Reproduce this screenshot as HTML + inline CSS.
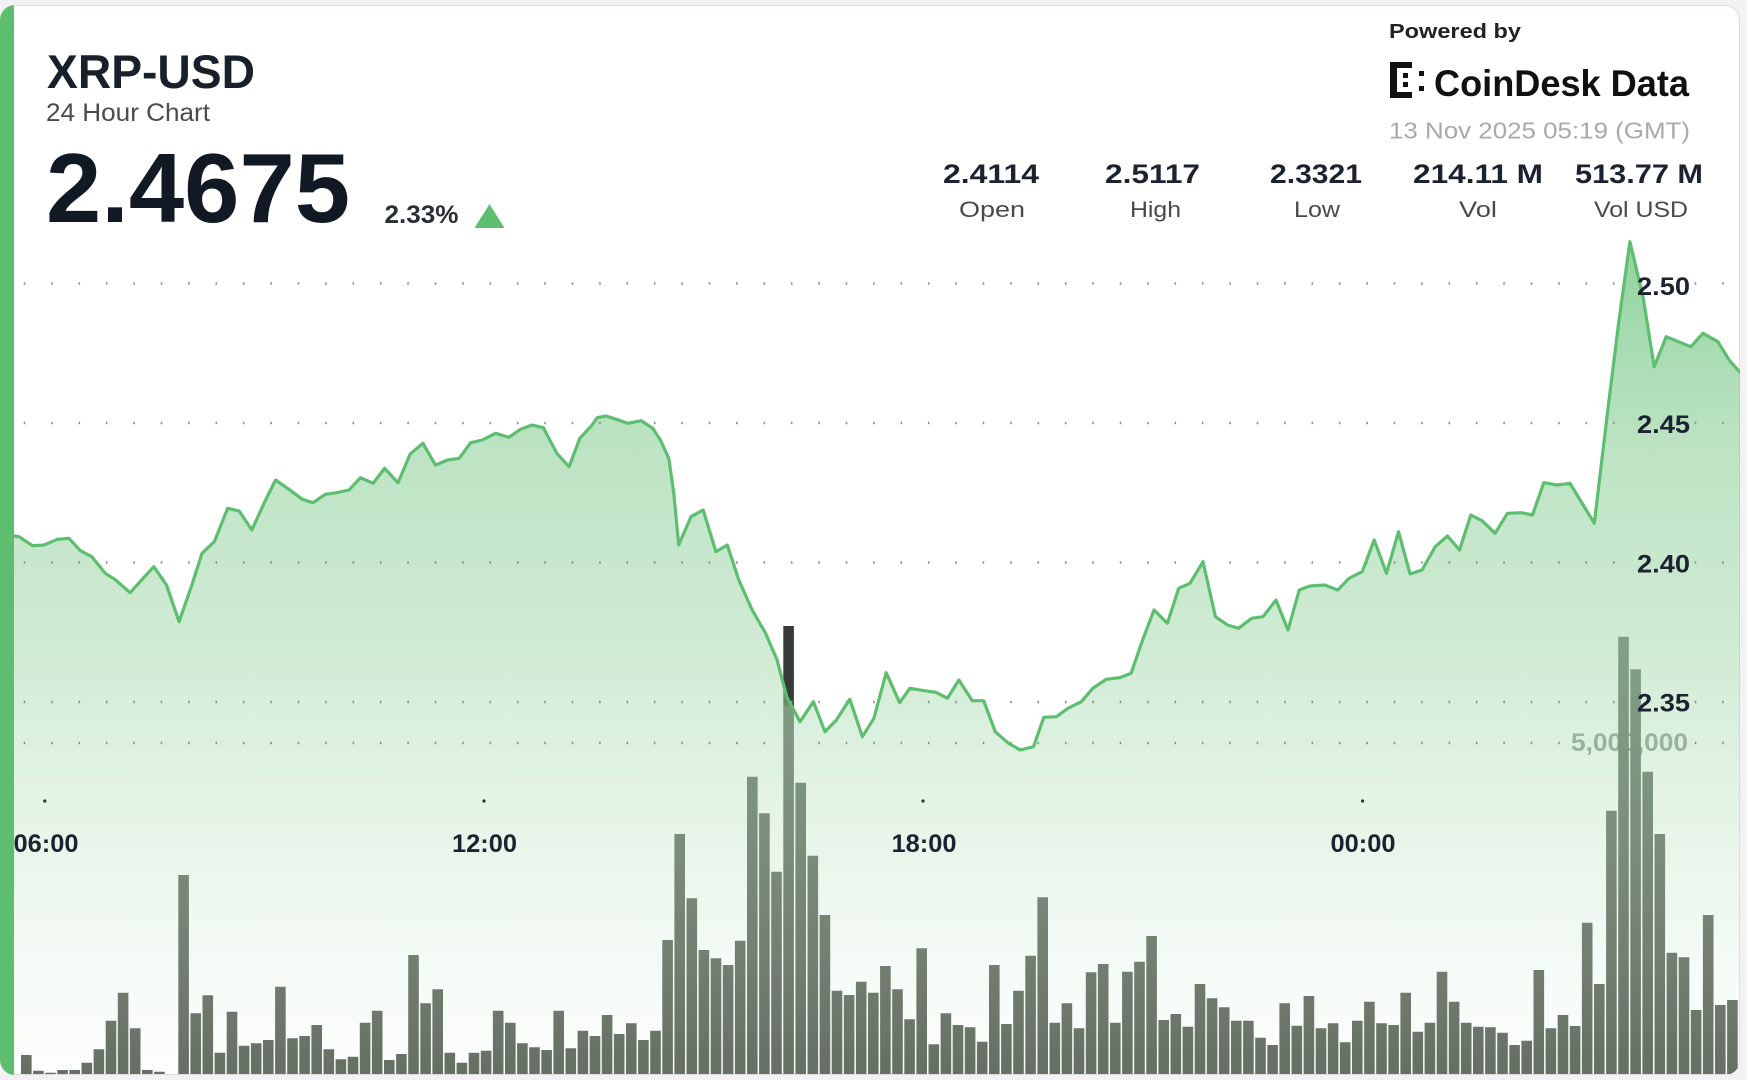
<!DOCTYPE html>
<html><head><meta charset="utf-8">
<style>
html,body{margin:0;padding:0;background:#f3f1f3;}
svg{display:block;}
text{font-family:"Liberation Sans",Arial,sans-serif;}
</style></head><body>
<svg width="1747" height="1080" viewBox="0 0 1747 1080" xmlns="http://www.w3.org/2000/svg">
<defs>
<clipPath id="card"><rect x="0" y="5" width="1740" height="1070" rx="15"/></clipPath>
<linearGradient id="fg" gradientUnits="userSpaceOnUse" x1="0" y1="240" x2="0" y2="1074">
<stop offset="0" stop-color="#6cc47e" stop-opacity="0.75"/>
<stop offset="0.25" stop-color="#8ccf98" stop-opacity="0.58"/>
<stop offset="0.5" stop-color="#a6d9ae" stop-opacity="0.52"/>
<stop offset="0.8" stop-color="#c5e6ca" stop-opacity="0.28"/>
<stop offset="1" stop-color="#e0f2e3" stop-opacity="0.1"/>
</linearGradient>
</defs>
<rect width="1747" height="1080" fill="#f3f1f3"/>
<rect x="0.5" y="5.5" width="1739" height="1069" rx="15" fill="#ffffff" stroke="#e0dde0"/>
<g clip-path="url(#card)">
<text x="1688" y="751" font-size="25" font-weight="bold" fill="#8a8f8a" text-anchor="end" textLength="117" lengthAdjust="spacingAndGlyphs">5,000,000</text>
<path fill="#586055" d="M21 1055h10.6V1074h-10.6Z M33.1 1070.7h10.6V1074h-10.6Z M45.2 1072.7h10.6V1074h-10.6Z M57.3 1070h10.6V1074h-10.6Z M69.4 1070h10.6V1074h-10.6Z M81.5 1062.7h10.6V1074h-10.6Z M93.6 1049.3h10.6V1074h-10.6Z M105.7 1020.7h10.6V1074h-10.6Z M117.8 992.7h10.6V1074h-10.6Z M129.9 1028.3h10.6V1074h-10.6Z M142 1070h10.6V1074h-10.6Z M154.1 1071.7h10.6V1074h-10.6Z M178.3 875h10.6V1074h-10.6Z M190.4 1013.3h10.6V1074h-10.6Z M202.5 995.3h10.6V1074h-10.6Z M214.6 1052.7h10.6V1074h-10.6Z M226.7 1011.7h10.6V1074h-10.6Z M238.8 1045.7h10.6V1074h-10.6Z M250.9 1043.3h10.6V1074h-10.6Z M263 1040h10.6V1074h-10.6Z M275.1 986.7h10.6V1074h-10.6Z M287.2 1038.3h10.6V1074h-10.6Z M299.3 1036h10.6V1074h-10.6Z M311.4 1025h10.6V1074h-10.6Z M323.5 1049.3h10.6V1074h-10.6Z M335.6 1059.3h10.6V1074h-10.6Z M347.7 1056.7h10.6V1074h-10.6Z M359.8 1022.7h10.6V1074h-10.6Z M371.9 1010.7h10.6V1074h-10.6Z M384 1060h10.6V1074h-10.6Z M396.1 1054h10.6V1074h-10.6Z M408.2 955h10.6V1074h-10.6Z M420.3 1003.3h10.6V1074h-10.6Z M432.4 989.3h10.6V1074h-10.6Z M444.5 1052.7h10.6V1074h-10.6Z M456.6 1062.7h10.6V1074h-10.6Z M468.7 1052.7h10.6V1074h-10.6Z M480.8 1050.7h10.6V1074h-10.6Z M492.9 1010.7h10.6V1074h-10.6Z M505 1022.7h10.6V1074h-10.6Z M517.1 1043.3h10.6V1074h-10.6Z M529.2 1047.3h10.6V1074h-10.6Z M541.3 1050h10.6V1074h-10.6Z M553.4 1010.7h10.6V1074h-10.6Z M565.5 1048.3h10.6V1074h-10.6Z M577.6 1030.7h10.6V1074h-10.6Z M589.7 1036h10.6V1074h-10.6Z M601.8 1015h10.6V1074h-10.6Z M613.9 1034h10.6V1074h-10.6Z M626 1023.3h10.6V1074h-10.6Z M638.1 1040h10.6V1074h-10.6Z M650.2 1030.7h10.6V1074h-10.6Z M662.3 940h10.6V1074h-10.6Z M674.4 834h10.6V1074h-10.6Z M686.5 898.3h10.6V1074h-10.6Z M698.6 950h10.6V1074h-10.6Z M710.7 958.3h10.6V1074h-10.6Z M722.8 965h10.6V1074h-10.6Z M734.9 940.7h10.6V1074h-10.6Z M747 776.7h10.6V1074h-10.6Z M759.1 813.3h10.6V1074h-10.6Z M771.2 871.7h10.6V1074h-10.6Z M783.3 706h10.6V1074h-10.6Z M795.4 782.7h10.6V1074h-10.6Z M807.5 855.7h10.6V1074h-10.6Z M819.6 915h10.6V1074h-10.6Z M831.7 990.7h10.6V1074h-10.6Z M843.8 995h10.6V1074h-10.6Z M855.9 981.7h10.6V1074h-10.6Z M868 992.7h10.6V1074h-10.6Z M880.1 966h10.6V1074h-10.6Z M892.2 989.3h10.6V1074h-10.6Z M904.3 1019.3h10.6V1074h-10.6Z M916.4 948.3h10.6V1074h-10.6Z M928.5 1044.3h10.6V1074h-10.6Z M940.6 1013.3h10.6V1074h-10.6Z M952.7 1025h10.6V1074h-10.6Z M964.8 1027.3h10.6V1074h-10.6Z M976.9 1041.7h10.6V1074h-10.6Z M989 965h10.6V1074h-10.6Z M1001.1 1024h10.6V1074h-10.6Z M1013.2 990.7h10.6V1074h-10.6Z M1025.3 955.7h10.6V1074h-10.6Z M1037.4 897.3h10.6V1074h-10.6Z M1049.5 1022.7h10.6V1074h-10.6Z M1061.6 1003.3h10.6V1074h-10.6Z M1073.7 1028.3h10.6V1074h-10.6Z M1085.8 972.3h10.6V1074h-10.6Z M1097.9 964h10.6V1074h-10.6Z M1110 1022.7h10.6V1074h-10.6Z M1122.1 971.7h10.6V1074h-10.6Z M1134.2 961.7h10.6V1074h-10.6Z M1146.3 936h10.6V1074h-10.6Z M1158.4 1020h10.6V1074h-10.6Z M1170.5 1014h10.6V1074h-10.6Z M1182.6 1026.7h10.6V1074h-10.6Z M1194.7 984h10.6V1074h-10.6Z M1206.8 998.3h10.6V1074h-10.6Z M1218.9 1007.3h10.6V1074h-10.6Z M1231 1020.7h10.6V1074h-10.6Z M1243.1 1020.7h10.6V1074h-10.6Z M1255.2 1037.7h10.6V1074h-10.6Z M1267.3 1045h10.6V1074h-10.6Z M1279.4 1003.3h10.6V1074h-10.6Z M1291.5 1025.7h10.6V1074h-10.6Z M1303.6 996h10.6V1074h-10.6Z M1315.7 1028.3h10.6V1074h-10.6Z M1327.8 1023.3h10.6V1074h-10.6Z M1339.9 1042.3h10.6V1074h-10.6Z M1352 1020.7h10.6V1074h-10.6Z M1364.1 1001.7h10.6V1074h-10.6Z M1376.2 1023.3h10.6V1074h-10.6Z M1388.3 1025h10.6V1074h-10.6Z M1400.4 992.7h10.6V1074h-10.6Z M1412.5 1031.7h10.6V1074h-10.6Z M1424.6 1022.7h10.6V1074h-10.6Z M1436.7 971.7h10.6V1074h-10.6Z M1448.8 1001.7h10.6V1074h-10.6Z M1460.9 1022.7h10.6V1074h-10.6Z M1473 1026.7h10.6V1074h-10.6Z M1485.1 1027.3h10.6V1074h-10.6Z M1497.2 1032.7h10.6V1074h-10.6Z M1509.3 1045h10.6V1074h-10.6Z M1521.4 1040.7h10.6V1074h-10.6Z M1533.5 970h10.6V1074h-10.6Z M1545.6 1028.3h10.6V1074h-10.6Z M1557.7 1015h10.6V1074h-10.6Z M1569.8 1026h10.6V1074h-10.6Z M1581.9 922.7h10.6V1074h-10.6Z M1594 984h10.6V1074h-10.6Z M1606.1 810.7h10.6V1074h-10.6Z M1618.2 636.7h10.6V1074h-10.6Z M1630.3 669.3h10.6V1074h-10.6Z M1642.4 771.7h10.6V1074h-10.6Z M1654.5 834h10.6V1074h-10.6Z M1666.6 952.7h10.6V1074h-10.6Z M1678.7 957.3h10.6V1074h-10.6Z M1690.8 1010h10.6V1074h-10.6Z M1702.9 915h10.6V1074h-10.6Z M1715 1005h10.6V1074h-10.6Z M1727.1 1000h10.6V1074h-10.6Z"/>
<path fill="#353b36" d="M783.3 626h10.6V706h-10.6Z"/>
<path fill="url(#fg)" d="M14,1074 L14,536 L14.5,536 19,536.7 32.5,545.7 44,545 57.4,539.3 68.9,538.3 80.4,550.7 91.8,556.7 105.2,573.3 114.8,579.3 130.1,592.7 141.6,580 153.8,566.7 166.5,585 179.1,621.7 191.3,586.7 202,553.3 214.3,541.7 227.7,508.3 239.2,511 251.8,530 264,503.3 275.5,480 288.9,489.3 302.3,499.3 313,502.7 325.3,494.3 336.8,492.7 349,490 360.5,477.7 373.1,483.3 384.6,468.3 398,482.7 410.2,454 422.9,443.3 435.5,465 447.7,460 459.2,458.3 470.7,442.7 482.2,440 495.6,433.3 509,437.3 520.5,429.3 532,425 543.4,427.7 556.8,453.3 569.1,466.7 579.8,438.3 591.3,426 597.2,417.7 606,416 616.4,419.3 627.8,423.3 641.2,420.7 652.7,428.3 660.4,440 668.8,458.3 673.8,493.3 678.7,545 691,516.7 703.2,510 715.9,551.7 727.3,545 738.8,580 752.2,610 765.6,633.3 777.1,660 786.7,696.7 800,721.7 813.4,701.7 824.9,731.7 836.4,720 849.8,699.3 862.4,736.7 873.9,718.3 886.2,672.7 899.6,702.7 909.9,688.3 924.4,690.7 935.9,692.3 947.4,698.3 958.9,680 972.3,700.7 983.7,700.7 995.2,731.7 1008.6,743.3 1020.1,750 1033.5,746.7 1043.8,717.3 1056.5,716.7 1067.9,708.3 1081.3,701.7 1092.8,688.3 1106.2,679.3 1119.6,677.7 1131.1,673.3 1142.6,640 1154,610 1167.4,623.3 1178.7,588.3 1190,583.3 1203,561.7 1215.4,616.7 1227.4,625 1238.6,628.3 1251.7,618.3 1263,616.7 1276,600 1288,630 1299.3,590 1309.8,586 1324.7,585 1337.8,590 1349,578.3 1362.2,571.7 1374.2,540 1386.5,573.3 1398.5,531.7 1410.1,574 1422.1,570 1435.2,546.7 1447.5,536 1459.5,550 1470.8,515 1482,520.7 1495.1,533.3 1507.4,513.3 1521.3,512.7 1532.5,515 1543.8,482.7 1556.9,485 1570,483.3 1594.3,523.3 1607.4,413.3 1618.6,323.3 1629.9,241.7 1643,296.7 1654.2,366.7 1666.2,336.7 1678.5,341.7 1690.9,346.7 1702.9,333.3 1717.9,341.7 1729.1,360 1739.5,371.7 1745,376 L1745,1074 Z"/>
<g stroke="#8f8f8f" stroke-width="2.4" stroke-dasharray="1.6 25.8" fill="none">
<line x1="23.7" y1="283.5" x2="1616" y2="283.5"/>
<line x1="1694.7" y1="283.5" x2="1726" y2="283.5"/>
<line x1="23.7" y1="423" x2="1616" y2="423"/>
<line x1="1694.7" y1="423" x2="1726" y2="423"/>
<line x1="23.7" y1="562.5" x2="1616" y2="562.5"/>
<line x1="1694.7" y1="562.5" x2="1726" y2="562.5"/>
<line x1="23.7" y1="702" x2="1616" y2="702"/>
<line x1="1694.7" y1="702" x2="1726" y2="702"/>
<line x1="23.7" y1="743" x2="1561" y2="743"/>
<line x1="1694.7" y1="743" x2="1726" y2="743"/>
</g>
<g fill="#2a2f36">
<circle cx="44.8" cy="801" r="1.6"/>
<circle cx="484" cy="801" r="1.6"/>
<circle cx="923" cy="801" r="1.6"/>
<circle cx="1362.6" cy="801" r="1.6"/>
</g>
<g font-size="25" font-weight="bold" fill="#1c2330" text-anchor="middle">
<text x="46" y="852" textLength="65" lengthAdjust="spacingAndGlyphs">06:00</text>
<text x="484.5" y="852" textLength="65" lengthAdjust="spacingAndGlyphs">12:00</text>
<text x="924" y="852" textLength="65" lengthAdjust="spacingAndGlyphs">18:00</text>
<text x="1363" y="852" textLength="65" lengthAdjust="spacingAndGlyphs">00:00</text>
</g>
<polyline fill="none" stroke="#5dbe6f" stroke-width="3.2" stroke-linejoin="round" stroke-linecap="round" points="14.5,536 19,536.7 32.5,545.7 44,545 57.4,539.3 68.9,538.3 80.4,550.7 91.8,556.7 105.2,573.3 114.8,579.3 130.1,592.7 141.6,580 153.8,566.7 166.5,585 179.1,621.7 191.3,586.7 202,553.3 214.3,541.7 227.7,508.3 239.2,511 251.8,530 264,503.3 275.5,480 288.9,489.3 302.3,499.3 313,502.7 325.3,494.3 336.8,492.7 349,490 360.5,477.7 373.1,483.3 384.6,468.3 398,482.7 410.2,454 422.9,443.3 435.5,465 447.7,460 459.2,458.3 470.7,442.7 482.2,440 495.6,433.3 509,437.3 520.5,429.3 532,425 543.4,427.7 556.8,453.3 569.1,466.7 579.8,438.3 591.3,426 597.2,417.7 606,416 616.4,419.3 627.8,423.3 641.2,420.7 652.7,428.3 660.4,440 668.8,458.3 673.8,493.3 678.7,545 691,516.7 703.2,510 715.9,551.7 727.3,545 738.8,580 752.2,610 765.6,633.3 777.1,660 786.7,696.7 800,721.7 813.4,701.7 824.9,731.7 836.4,720 849.8,699.3 862.4,736.7 873.9,718.3 886.2,672.7 899.6,702.7 909.9,688.3 924.4,690.7 935.9,692.3 947.4,698.3 958.9,680 972.3,700.7 983.7,700.7 995.2,731.7 1008.6,743.3 1020.1,750 1033.5,746.7 1043.8,717.3 1056.5,716.7 1067.9,708.3 1081.3,701.7 1092.8,688.3 1106.2,679.3 1119.6,677.7 1131.1,673.3 1142.6,640 1154,610 1167.4,623.3 1178.7,588.3 1190,583.3 1203,561.7 1215.4,616.7 1227.4,625 1238.6,628.3 1251.7,618.3 1263,616.7 1276,600 1288,630 1299.3,590 1309.8,586 1324.7,585 1337.8,590 1349,578.3 1362.2,571.7 1374.2,540 1386.5,573.3 1398.5,531.7 1410.1,574 1422.1,570 1435.2,546.7 1447.5,536 1459.5,550 1470.8,515 1482,520.7 1495.1,533.3 1507.4,513.3 1521.3,512.7 1532.5,515 1543.8,482.7 1556.9,485 1570,483.3 1594.3,523.3 1607.4,413.3 1618.6,323.3 1629.9,241.7 1643,296.7 1654.2,366.7 1666.2,336.7 1678.5,341.7 1690.9,346.7 1702.9,333.3 1717.9,341.7 1729.1,360 1739.5,371.7 1745,376"/>
<g font-size="25" font-weight="bold" fill="#1c2330" text-anchor="end">
<text x="1690" y="295" textLength="53" lengthAdjust="spacingAndGlyphs">2.50</text>
<text x="1690" y="433" textLength="53" lengthAdjust="spacingAndGlyphs">2.45</text>
<text x="1690" y="572.5" textLength="53" lengthAdjust="spacingAndGlyphs">2.40</text>
<text x="1690" y="711.5" textLength="53" lengthAdjust="spacingAndGlyphs">2.35</text>
</g>
<rect x="0" y="0" width="14" height="1080" fill="#5cbe6e"/>
</g>

<text x="47" y="88" font-size="47" font-weight="bold" fill="#18202c" textLength="208" lengthAdjust="spacingAndGlyphs">XRP-USD</text>
<text x="46" y="121" font-size="25" fill="#4b4b4b" textLength="164" lengthAdjust="spacingAndGlyphs">24 Hour Chart</text>
<text x="46" y="222" font-size="98" font-weight="bold" fill="#111925" textLength="304" lengthAdjust="spacingAndGlyphs">2.4675</text>
<text x="384.5" y="223" font-size="25" font-weight="bold" fill="#2a2f36" textLength="74" lengthAdjust="spacingAndGlyphs">2.33%</text>
<polygon points="474.5,228 504.4,228 489.5,204" fill="#5cbe6e"/>

<text x="1389" y="38" font-size="20" font-weight="bold" fill="#222" textLength="132" lengthAdjust="spacingAndGlyphs">Powered by</text>
<g fill="#111">
<rect x="1390" y="62" width="7" height="36"/>
<rect x="1390" y="62" width="22" height="6"/>
<rect x="1390" y="92" width="22" height="6"/>
<rect x="1403" y="73" width="5" height="5"/>
<rect x="1403" y="82" width="5" height="5"/>
<rect x="1419" y="71" width="5" height="5"/>
<rect x="1419" y="86" width="5" height="5"/>
</g>
<text x="1434" y="96" font-size="37" font-weight="bold" fill="#111" textLength="255" lengthAdjust="spacingAndGlyphs">CoinDesk Data</text>
<text x="1389" y="138.5" font-size="23" fill="#a9a9a9" textLength="301" lengthAdjust="spacingAndGlyphs">13 Nov 2025 05:19 (GMT)</text>

<g font-size="27" font-weight="bold" fill="#1c2330">
<text x="943" y="183" textLength="96" lengthAdjust="spacingAndGlyphs">2.4114</text>
<text x="1105" y="183" textLength="95" lengthAdjust="spacingAndGlyphs">2.5117</text>
<text x="1270" y="183" textLength="92" lengthAdjust="spacingAndGlyphs">2.3321</text>
<text x="1413" y="183" textLength="130" lengthAdjust="spacingAndGlyphs">214.11 M</text>
<text x="1575" y="183" textLength="128" lengthAdjust="spacingAndGlyphs">513.77 M</text>
</g>
<g font-size="22" fill="#4a4a4a">
<text x="959" y="217" textLength="66" lengthAdjust="spacingAndGlyphs">Open</text>
<text x="1130" y="217" textLength="51" lengthAdjust="spacingAndGlyphs">High</text>
<text x="1294" y="217" textLength="46" lengthAdjust="spacingAndGlyphs">Low</text>
<text x="1459" y="217" textLength="38" lengthAdjust="spacingAndGlyphs">Vol</text>
<text x="1594" y="217" textLength="94" lengthAdjust="spacingAndGlyphs">Vol USD</text>
</g>
</svg>
</body></html>
